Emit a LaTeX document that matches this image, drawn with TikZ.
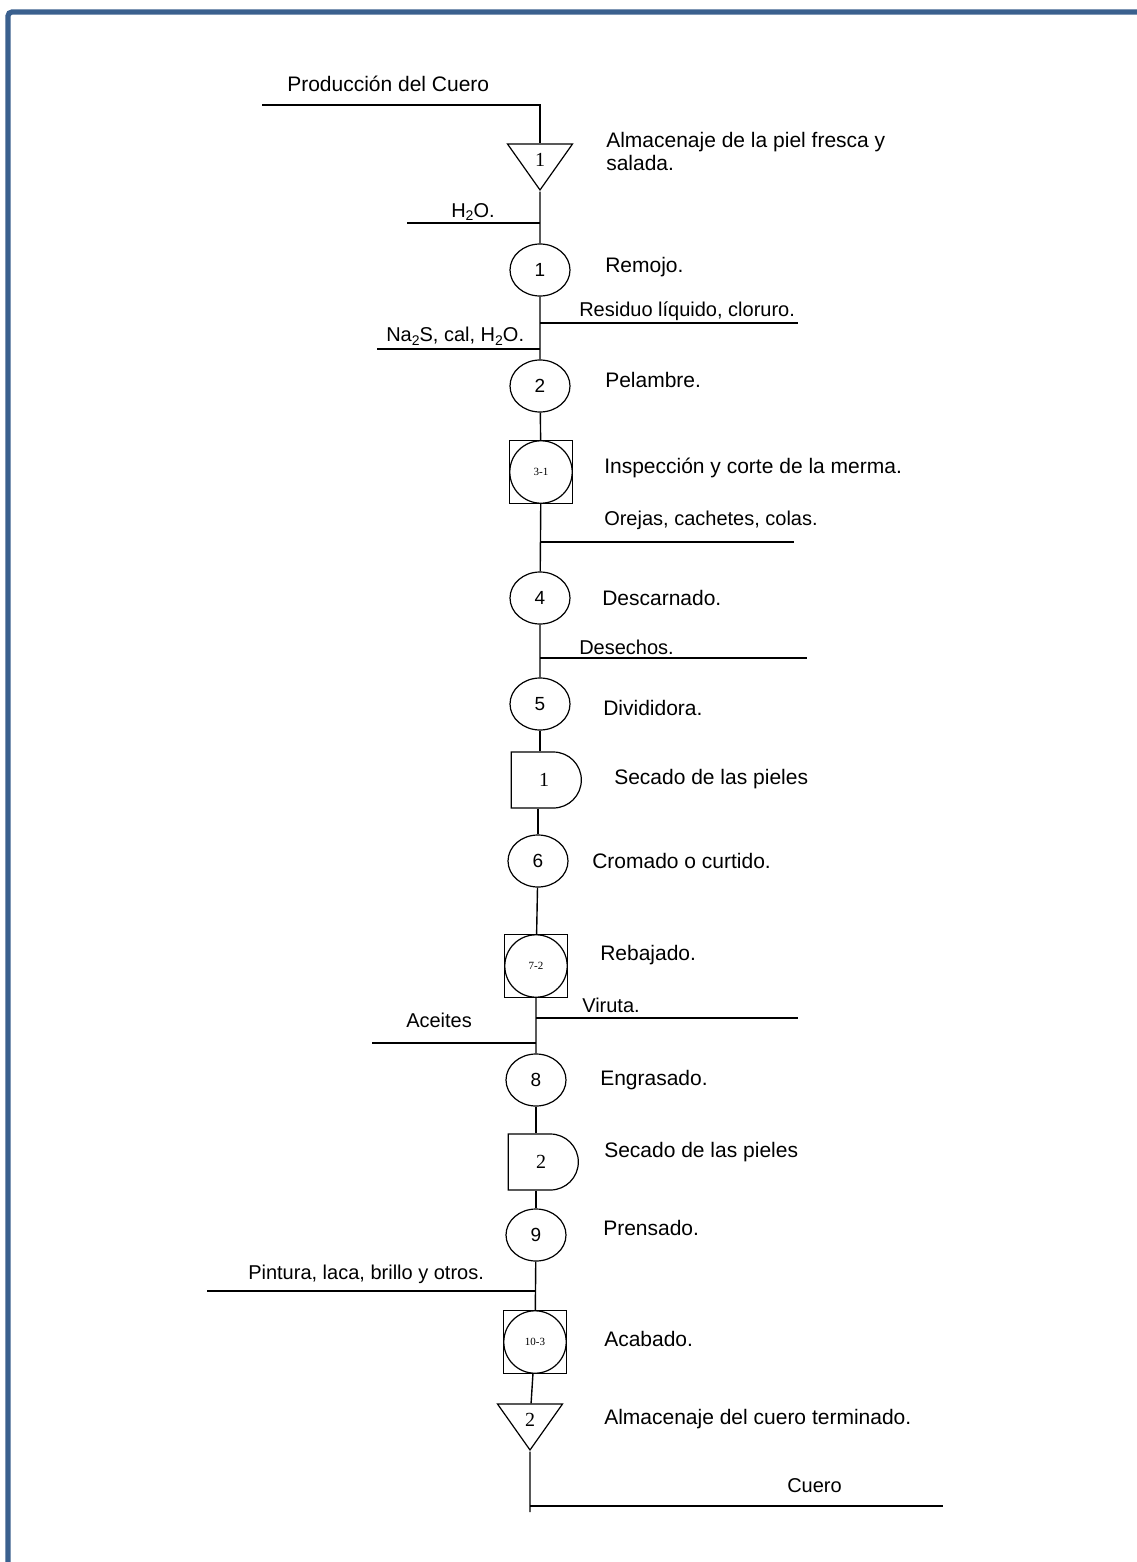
\documentclass[tikz,border=0pt]{standalone}
\usepackage{fontspec}
\setmainfont{Liberation Sans}
\newfontfamily\numfont{Liberation Serif}
\usepackage{xcolor}
\usetikzlibrary{positioning, shapes.geometric, shapes.gates.logic.US}

\definecolor{framecol}{RGB}{58,96,142}
\newcommand{\chemsub}[1]{\raisebox{-0.35ex}{\fontsize{7}{8}\selectfont #1}}

\begin{document}
\begin{tikzpicture}[
      x=0.5pt, y=-0.5pt,
      line width=0.6pt,
      font=\fontsize{10.5}{11.5}\selectfont,
      op/.style     = {draw, ellipse, inner sep=0pt, minimum width=30pt, minimum height=26pt,
                       font=\fontsize{9.5}{11}\selectfont},
      opinsp/.style = {draw, rectangle, inner sep=0pt, minimum size=31.5pt,
                       font=\numfont\fontsize{5.5}{6}\selectfont,
                       path picture={\draw (path picture bounding box.center) circle [radius=15.6pt];}},
      store/.style  = {draw, isosceles triangle, isosceles triangle stretches, shape border rotate=270,
                       inner sep=0pt, minimum width=32.5pt, minimum height=23pt,
                       font=\numfont\fontsize{10}{12}\selectfont},
      delay/.style  = {draw, and gate US, inner sep=0pt, minimum width=35pt, minimum height=27pt,
                       font=\numfont\fontsize{10}{12}\selectfont},
      desc/.style   = {anchor=west, align=left},
      side/.style   = {anchor=west, font=\fontsize{10}{12}\selectfont},
      flow/.style   = {line width=0.7pt},
      frame/.style  = {draw=framecol, line width=2.6pt, rounded corners=2pt}
  ]
  \useasboundingbox (0,0) rectangle (1136,1562);

  % --- Frame ---
  \draw[frame] (8,1570) |- (1145,12);

  % --- Process symbols ---
  \node[store]  (tri1) at (540,160)  {1};
  \node[op]     (c1)   at (540,270)  {1};
  \node[op]     (c2)   at (540,386)  {2};
  \node[opinsp] (b31)  at (541,472)  {3-1};
  \node[op]     (c4)   at (540,598)  {4};
  \node[op]     (c5)   at (540,704)  {5};
  \node[delay]  (d1)   at (544,780)  {1};
  \node[op]     (c6)   at (538,861)  {6};
  \node[opinsp] (b72)  at (536,966)  {7-2};
  \node[op]     (c8)   at (536,1080) {8};
  \node[delay]  (d2)   at (541,1162) {2};
  \node[op]     (c9)   at (536,1235) {9};
  \node[opinsp] (b103) at (535,1342) {10-3};
  \node[store]  (tri2) at (530,1420) {2};

  % --- Step names ---
  \node[desc] (ntri1) at (599,151)  {Almacenaje de la piel fresca y\\salada.};
  \node[desc] (nc1)   at (598,267)  {Remojo.};
  \node[desc] (nc2)   at (598,380)  {Pelambre.};
  \node[desc] (nb31)  at (597,468)  {Inspección y corte de la merma.};
  \node[desc] (nc4)   at (595,598)  {Descarnado.};
  \node[desc] (nc5)   at (596,708)  {Divididora.};
  \node[desc] (nd1)   at (607,779)  {Secado de las pieles};
  \node[desc] (nc6)   at (585,861)  {Cromado o curtido.};
  \node[desc] (nb72)  at (593,955)  {Rebajado.};
  \node[desc] (nc8)   at (593,1080) {Engrasado.};
  \node[desc] (nd2)   at (597,1152) {Secado de las pieles};
  \node[desc] (nc9)   at (596,1228) {Prensado.};
  \node[desc] (nb103) at (597,1339) {Acabado.};
  \node[desc] (ntri2) at (597,1419) {Almacenaje del cuero terminado.};

  % --- Main line ---
  \draw[flow] (tri1) -- (c1) -- (c2) -- (b31) -- (c4) -- (c5);
  \draw[flow] (c5.south) -- (c5.south |- d1.north);
  \draw[flow] (c6.north |- d1.south) -- (c6.north);
  \draw[flow] (c6) -- (b72) -- (c8);
  \draw[flow] (c8.south) -- (c8.south |- d2.north);
  \draw[flow] (d2.south -| c9) -- (c9.north);
  \draw[flow] (c9) -- (b103) -- (tri2);

  % --- Inputs and outputs ---
  \coordinate (in0)  at (262,105);
  \node[side, font=\fontsize{10.5}{12}\selectfont] (tin0) at (280,84) {Producción del Cuero};
  \draw[flow] (in0) -| (tri1);

  \coordinate (h2o) at (407,223);
  \node[side] (th2o) at (444,212) {H\chemsub{2}O.};
  \draw[flow] (h2o) -- (h2o -| c1);

  \coordinate (res) at (798,323);
  \node[side] (tres) at (572,311) {Residuo líquido, cloruro.};
  \draw[flow] (res -| c1) -- (res);

  \coordinate (na2s) at (377,349);
  \node[side] (tna2s) at (379,336) {Na\chemsub{2}S, cal, H\chemsub{2}O.};
  \draw[flow] (na2s) -- (na2s -| c2);

  \coordinate (ore) at (794,542);
  \node[side] (tore) at (597,520) {Orejas, cachetes, colas.};
  \draw[flow] (ore -| c4) -- (ore);

  \coordinate (des) at (807,658);
  \node[side] (tdes) at (572,647) {Desechos.};
  \draw[flow] (des -| c4) -- (des);

  \coordinate (vir) at (798,1018);
  \node[side] (tvir) at (575,1005) {Viruta.};
  \draw[flow] (vir -| c8) -- (vir);

  \coordinate (ace) at (372,1043);
  \node[side] (tace) at (399,1020) {Aceites};
  \draw[flow] (ace) -- (ace -| c8);

  \coordinate (pin) at (207,1291);
  \node[side] (tpin) at (241,1274) {Pintura, laca, brillo y otros.};
  \draw[flow] (pin) -- (pin -| b103);

  \coordinate (out0) at (530,1512);
  \coordinate (out1) at (943,1506);
  \node[side] (tout) at (780,1486) {Cuero};
  \draw[flow] (tri2) -- (out0);
  \draw[flow] (out1 -| out0) -- (out1);

\end{tikzpicture}
\end{document}
